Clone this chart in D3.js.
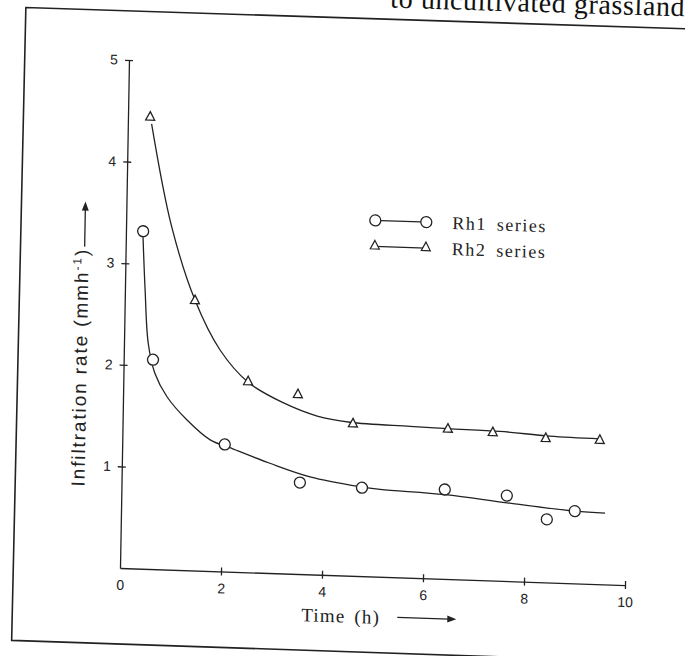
<!DOCTYPE html>
<html>
<head>
<meta charset="utf-8">
<script src="https://cdn.jsdelivr.net/npm/d3@7"></script>
<style>
body{margin:0;background:#fff;}
svg{display:block;}
</style>
</head>
<body>
<div id="chart"></div>
<script>
var rh1Time = [0.34,0.58,2.03,3.53,4.76,6.40,7.63,8.43,8.98];
var rh1Rate = [3.32,2.06,1.25,0.90,0.87,0.88,0.84,0.62,0.71];
var rh2Time = [0.44,1.39,2.47,3.46,4.56,6.44,7.33,8.38,9.45];
var rh2Rate = [4.45,2.66,1.88,1.77,1.50,1.48,1.46,1.42,1.42];
// hand drawn fitted curves
var rh1FitTime = [0.34,0.40,0.48,0.62,0.87,1.27,1.74,2.13,2.93,3.73,4.72,5.12,6.41,7.64,8.98,9.58];
var rh1FitRate = [3.26,2.74,2.22,1.93,1.70,1.48,1.29,1.22,1.08,0.96,0.88,0.86,0.83,0.77,0.71,0.70];
var rh2FitTime = [0.47,0.90,1.39,1.90,2.47,3.17,3.85,4.50,5.69,6.44,7.47,8.46,9.45];
var rh2FitRate = [4.38,3.38,2.66,2.18,1.87,1.68,1.56,1.51,1.49,1.48,1.47,1.44,1.43];
var xTicks = [0,2,4,6,8,10];
var yTicks = [1,2,3,4,5];
var seriesNames = ["Rh1 series","Rh2 series"];

var ink = "#222";
var W = 685, H = 656;

var svg = d3.select("#chart").append("svg")
    .attr("width", W).attr("height", H);

// caption line of the page, cut off at the top like in the scan
svg.append("text")
    .attr("x", 390).attr("y", 12)
    .attr("transform", "rotate(1.7,540,12)")
    .attr("font-family", "Liberation Serif")
    .attr("font-size", 28)
    .attr("letter-spacing", 0.6)
    .attr("fill", "#111")
    .text("to uncultivated grasslands");

// the scan is a little skewed, so the whole plot sits in a sheared group
var g = svg.append("g")
    .attr("transform", "matrix(1,0.0337,-0.0177,1,120,568)");

var x = d3.scaleLinear().domain([0, 10]).range([0, 505]);
var y = d3.scaleLinear().domain([0, 5]).range([0, -508]);

// frame
g.append("path")
    .attr("d", "M640,-558 L-104,-557 L-107,76 L640,76")
    .attr("fill", "none")
    .attr("stroke", ink)
    .attr("stroke-width", 1.6);

// axes
var xAxis = g.append("g")
    .call(d3.axisBottom(x).tickValues(xTicks).tickFormat(d3.format("d"))
        .tickSize(4).tickSizeOuter(0).tickPadding(8));
xAxis.selectAll(".tick line").attr("y1", -4);
xAxis.selectAll(".tick").filter(function(d){ return d === 0; }).select("line").remove();

var yAxis = g.append("g")
    .call(d3.axisLeft(y).tickValues(yTicks).tickFormat(d3.format("d"))
        .tickSize(4).tickSizeOuter(0).tickPadding(7));
yAxis.selectAll(".tick line").attr("x1", 4);

g.selectAll(".domain, .tick line")
    .attr("stroke", ink).attr("stroke-width", 1.3);
g.selectAll(".tick text")
    .attr("font-family", "Liberation Sans")
    .attr("font-size", 14)
    .attr("fill", ink);

// fitted curves
var line = d3.line()
    .x(function(d){ return x(d[0]); })
    .y(function(d){ return y(d[1]); })
    .curve(d3.curveCatmullRom.alpha(0.5));

g.append("path")
    .datum(d3.zip(rh1FitTime, rh1FitRate))
    .attr("d", line)
    .attr("fill", "none").attr("stroke", ink).attr("stroke-width", 1.3);

g.append("path")
    .datum(d3.zip(rh2FitTime, rh2FitRate))
    .attr("d", line)
    .attr("fill", "none").attr("stroke", ink).attr("stroke-width", 1.3);

// markers
var tri = "M0,-5 L4.5,3.5 L-4.5,3.5 Z";

g.selectAll(".rh1")
    .data(d3.zip(rh1Time, rh1Rate))
    .enter().append("circle")
    .attr("class", "rh1")
    .attr("cx", function(d){ return x(d[0]); })
    .attr("cy", function(d){ return y(d[1]); })
    .attr("r", 5.5)
    .attr("fill", "#fff").attr("stroke", ink).attr("stroke-width", 1.3);

g.selectAll(".rh2")
    .data(d3.zip(rh2Time, rh2Rate))
    .enter().append("path")
    .attr("class", "rh2")
    .attr("d", tri)
    .attr("transform", function(d){ return "translate(" + x(d[0]) + "," + y(d[1]) + ")"; })
    .attr("fill", "#fff").attr("stroke", ink).attr("stroke-width", 1.3);

// legend
var leg = g.append("g").attr("transform", "translate(249,-356)");
leg.append("line").attr("x1", 5.5).attr("x2", 45.5).attr("y1", 0).attr("y2", 0)
    .attr("stroke", ink).attr("stroke-width", 1.3);
leg.selectAll("circle").data([0, 51]).enter().append("circle")
    .attr("cx", function(d){ return d; }).attr("cy", 0).attr("r", 5.5)
    .attr("fill", "#fff").attr("stroke", ink).attr("stroke-width", 1.3);
leg.append("line").attr("x1", 0).attr("x2", 51).attr("y1", 26).attr("y2", 26)
    .attr("stroke", ink).attr("stroke-width", 1.3);
leg.selectAll(".lt").data([0, 51]).enter().append("path")
    .attr("class", "lt")
    .attr("d", tri)
    .attr("transform", function(d){ return "translate(" + d + ",25)"; })
    .attr("fill", "#fff").attr("stroke", ink).attr("stroke-width", 1.2);
leg.selectAll("text").data(seriesNames).enter().append("text")
    .attr("x", 77)
    .attr("y", function(d, i){ return 6 + i * 26; })
    .attr("font-family", "Liberation Serif")
    .attr("font-size", 18)
    .attr("letter-spacing", 1.5)
    .attr("word-spacing", 4)
    .attr("fill", ink)
    .text(function(d){ return d; });

// axis titles
var arrowHead = "M0,0 L-9,-3.5 L-9,3.5 Z";

g.append("text")
    .attr("x", 182).attr("y", 47)
    .attr("font-family", "Liberation Serif")
    .attr("font-size", 19)
    .attr("letter-spacing", 1.2)
    .attr("word-spacing", 3)
    .attr("fill", ink)
    .text("Time (h)");
g.append("line").attr("x1", 278).attr("x2", 330).attr("y1", 40).attr("y2", 40)
    .attr("stroke", ink).attr("stroke-width", 1.3);
g.append("path").attr("d", arrowHead).attr("transform", "translate(337,40)").attr("fill", ink);

var yt = g.append("text")
    .attr("transform", "translate(-37,-80) rotate(-90)")
    .attr("font-family", "Liberation Sans")
    .attr("font-size", 19)
    .attr("letter-spacing", 1.9)
    .attr("fill", ink);
yt.append("tspan").text("Infiltration rate (mmh");
yt.append("tspan").attr("dy", -7).attr("font-size", 12).text("-1");
yt.append("tspan").attr("dy", 7).text(")");
g.append("line").attr("x1", -41).attr("x2", -41).attr("y1", -320).attr("y2", -358)
    .attr("stroke", ink).attr("stroke-width", 1.3);
g.append("path").attr("d", arrowHead).attr("transform", "translate(-41,-365) rotate(-90)").attr("fill", ink);
</script>
</body>
</html>
